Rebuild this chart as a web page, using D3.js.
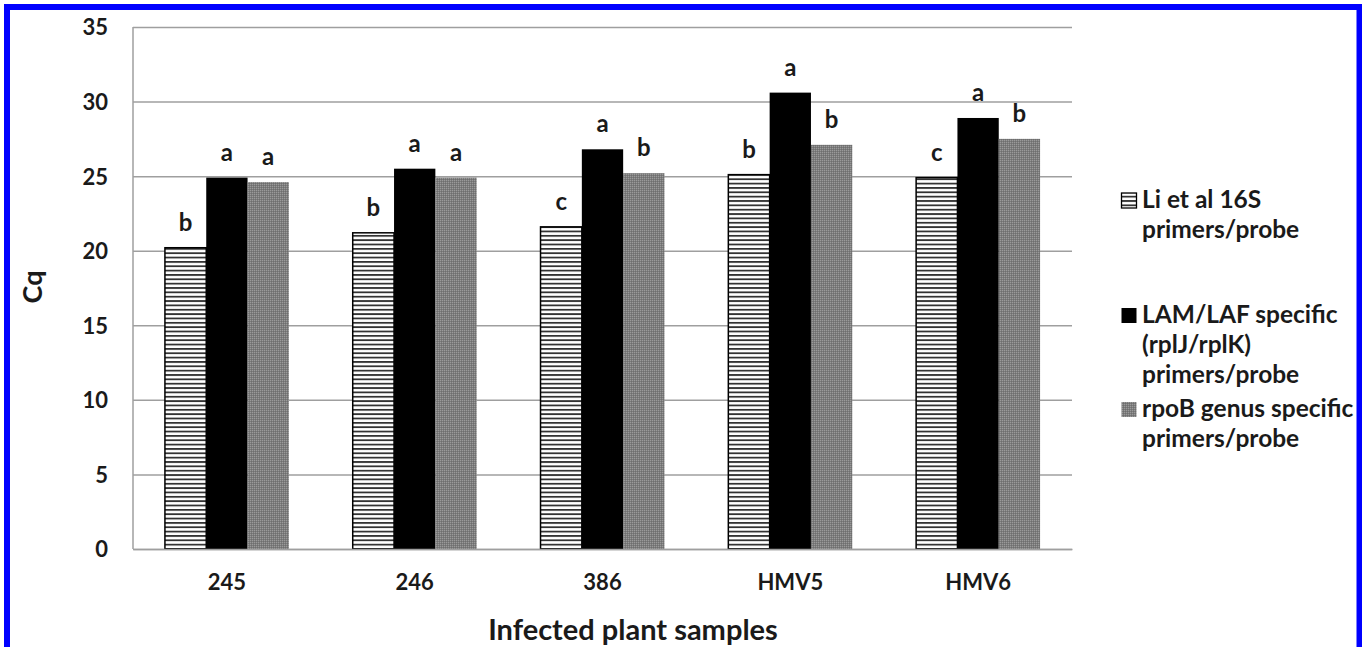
<!DOCTYPE html>
<html>
<head>
<meta charset="utf-8">
<script src="https://cdn.jsdelivr.net/npm/d3@7"></script>
<style>
  html, body { margin: 0; padding: 0; background: #fff; }
  svg { display: block; }
  text { font-family: Lato, "Open Sans", sans-serif; font-weight: 700; fill: #1a1a1a; }
</style>
</head>
<body>
<script>
// ---- data ----
const categories = ["245", "246", "386", "HMV5", "HMV6"];
const seriesNames = [
  ["Li et al 16S", "primers/probe"],
  ["LAM/LAF specific", "(rplJ/rplK)", "primers/probe"],
  ["rpoB genus specific", "primers/probe"]
];
const li16S  = [20.2, 21.2, 21.6, 25.1, 24.9];
const lamLaf = [24.9, 25.5, 26.8, 30.6, 28.9];
const rpoB   = [24.6, 24.9, 25.2, 27.1, 27.5];
const li16SLetters  = ["b", "b", "c", "b", "c"];
const lamLafLetters = ["a", "a", "a", "a", "a"];
const rpoBLetters   = ["a", "a", "b", "b", "b"];
const yTicks = [0, 5, 10, 15, 20, 25, 30, 35];
const xTitle = "Infected plant  samples";
const yTitle = "Cq";

const W = 1362, H = 647;
const svg = d3.select("body").append("svg").attr("width", W).attr("height", H);

// patterns
const defs = svg.append("defs");
const hatch = defs.append("pattern").attr("id", "hatch")
  .attr("patternUnits", "userSpaceOnUse").attr("width", 8).attr("height", 4.35);
hatch.append("rect").attr("width", 8).attr("height", 4.35).attr("fill", "#fff");
hatch.append("rect").attr("y", 0).attr("width", 8).attr("height", 1.8).attr("fill", "#333");

const dots = defs.append("pattern").attr("id", "dots")
  .attr("patternUnits", "userSpaceOnUse").attr("width", 2).attr("height", 2);
dots.append("rect").attr("width", 2).attr("height", 2).attr("fill", "#7c7c7c");
dots.append("rect").attr("width", 1).attr("height", 1).attr("fill", "#9a9a9a");
dots.append("rect").attr("x", 1).attr("y", 1).attr("width", 1).attr("height", 1).attr("fill", "#6e6e6e");

// scales
const plot = { left: 133, right: 1072, top: 27, bottom: 549 };
const y = d3.scaleLinear().domain([0, 35]).range([plot.bottom, plot.top]);
const x0 = d3.scaleBand().domain(categories).range([plot.left, plot.right]).padding(0);
const bw = x0.bandwidth();
const x1 = d3.scaleBand().domain([0, 1, 2]).range([bw * 0.17, bw * 0.83]).padding(0);

// gridlines + y axis
const yAxis = d3.axisLeft(y).tickValues(yTicks).tickSize(-(plot.right - plot.left)).tickPadding(25);
const gy = svg.append("g").attr("transform", `translate(${plot.left},0)`).call(yAxis);
gy.select(".domain").remove();
gy.selectAll(".tick line").attr("stroke", "#9f9f9f").attr("stroke-width", 1.5);
gy.selectAll(".tick text").attr("font-size", 22).attr("fill", "#1a1a1a")
  .attr("font-family", "Lato, sans-serif").attr("font-weight", 700).attr("dy", "0.36em");

// axis frame line
svg.append("line").attr("x1", plot.left).attr("x2", plot.left).attr("y1", plot.top).attr("y2", plot.bottom)
  .attr("stroke", "#9f9f9f").attr("stroke-width", 1.5);

// bars
const series = [
  { values: li16S, letters: li16SLetters, fill: "url(#hatch)", stroke: "#000", sw: 1.5 },
  { values: lamLaf, letters: lamLafLetters, fill: "#000", stroke: "none", sw: 0 },
  { values: rpoB, letters: rpoBLetters, fill: "url(#dots)", stroke: "none", sw: 0 }
];
series.forEach((s, si) => {
  const g = svg.append("g");
  g.selectAll("rect").data(s.values).join("rect")
    .attr("x", (d, i) => x0(categories[i]) + x1(si))
    .attr("y", d => y(d))
    .attr("width", x1.bandwidth())
    .attr("height", d => y(0) - y(d))
    .attr("fill", s.fill)
    .attr("stroke", s.stroke)
    .attr("stroke-width", s.sw);
  g.selectAll("text").data(s.values).join("text")
    .attr("x", (d, i) => x0(categories[i]) + x1(si) + x1.bandwidth() / 2)
    .attr("y", d => y(d) - 17)
    .attr("text-anchor", "middle")
    .attr("font-size", 24)
    .text((d, i) => s.letters[i]);
});

// x axis
const xAxis = d3.axisBottom(x0).tickSize(0).tickPadding(0);
const gx = svg.append("g").attr("transform", `translate(0,${plot.bottom})`).call(xAxis);
gx.select(".domain").attr("stroke", "#9f9f9f").attr("stroke-width", 1.5);
gx.selectAll(".tick text").attr("font-size", 22).attr("fill", "#1a1a1a")
  .attr("font-family", "Lato, sans-serif").attr("font-weight", 700)
  .attr("y", 41).attr("dy", 0);

// titles
svg.append("text").attr("x", 633).attr("y", 640).attr("text-anchor", "middle")
  .attr("font-size", 29).text(xTitle);
svg.append("text").attr("transform", "translate(42,287) rotate(-90)").attr("text-anchor", "middle")
  .attr("font-size", 27).text(yTitle);

// legend
const legendStarts = [208, 323, 417];
const legendFills = ["url(#hatch)", "#000", "url(#dots)"];
const lineH = 30;
seriesNames.forEach((lines, i) => {
  const g = svg.append("g");
  g.append("rect").attr("x", 1121.5).attr("y", legendStarts[i] - 15).attr("width", 15).attr("height", 15)
    .attr("fill", legendFills[i]).attr("stroke", i === 0 ? "#000" : "none").attr("stroke-width", 1.3);
  g.selectAll("text").data(lines).join("text")
    .attr("x", 1142).attr("y", (d, k) => legendStarts[i] + k * lineH)
    .attr("font-size", 24.5).text(d => d);
});

// blue frame
svg.append("rect").attr("x", 7).attr("y", 7).attr("width", 1352.5).attr("height", 720)
  .attr("fill", "none").attr("stroke", "#0000ff").attr("stroke-width", 6);
</script>
</body>
</html>
